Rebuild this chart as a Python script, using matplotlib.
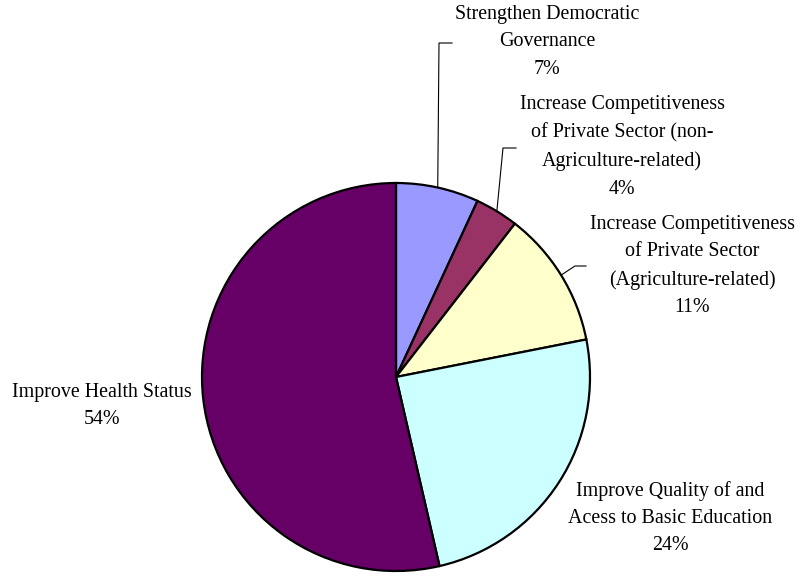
import numpy as np
import matplotlib
matplotlib.use("Agg")
import matplotlib.pyplot as plt

# ── Data ──────────────────────────────────────────────────────────────────────
labels = [
    "Strengthen Democratic\nGovernance",
    "Increase Competitiveness\nof Private Sector (non-\nAgriculture-related)",
    "Increase Competitiveness\nof Private Sector\n(Agriculture-related)",
    "Improve Quality of and\nAcess to Basic Education",
    "Improve Health Status",
]
shares = [6.9, 3.6, 11.4, 24.5, 53.6]
colors = ["#9999FF", "#993366", "#FFFFCC", "#CCFFFF", "#660066"]

# ── Layout (pixel-like canvas, y measured from the bottom) ───────────────────
W, H = 800, 577
CX, CY, R = 396, H - 377, 194

# label anchor (centre x, centre y) and optional leader elbow (x, y, end x)
label_pos = [(547, H - 42), (622, H - 147), (692, H - 266), (670, H - 518), (102, H - 406)]
leaders = [(439, H - 43, 452), (503, H - 148, 516), (575, H - 266, 586), None, None]

fig = plt.figure(figsize=(8, 5.77), dpi=100)
ax = fig.add_axes([0, 0, 1, 1])

wedges, _ = ax.pie(
    shares, colors=colors, startangle=90, counterclock=False,
    center=(CX, CY), radius=R, frame=False,
    wedgeprops=dict(edgecolor="black", linewidth=1.6),
)
ax.set_xlim(0, W)
ax.set_ylim(0, H)
ax.set_aspect("equal")
ax.axis("off")

for w, lab, v, (tx, ty), ld in zip(wedges, labels, shares, label_pos, leaders):
    ax.text(tx, ty, f"{lab}\n{v:.0f}%", ha="center", va="center",
            fontsize=14.4, linespacing=1.6, family=["Liberation Serif", "DejaVu Serif"])
    if ld is not None:
        mid = np.deg2rad((w.theta1 + w.theta2) / 2)
        sx, sy = CX + R * np.cos(mid), CY + R * np.sin(mid)
        ex, ey, hx = ld
        ax.plot([sx, ex, hx], [sy, ey, ey], color="black", lw=0.8)

fig.savefig("out.png", dpi=100)
